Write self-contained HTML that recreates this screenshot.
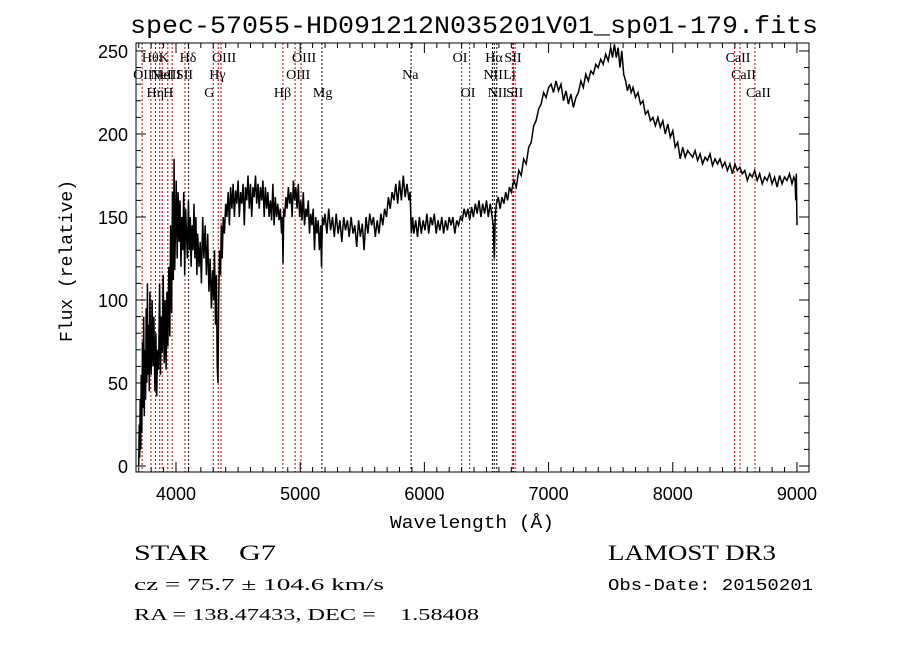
<!DOCTYPE html>
<html><head><meta charset="utf-8"><style>
html,body{margin:0;padding:0;background:#fff;}
svg{display:block;}
text{fill:#000;white-space:pre;}
</style></head><body>
<svg id="chart" width="900" height="649" viewBox="0 0 900 649" xmlns="http://www.w3.org/2000/svg" xml:space="preserve">
<rect x="0" y="0" width="900" height="649" fill="#fff"/>
<text x="130" y="33" font-family="Liberation Mono, monospace" font-size="25" textLength="688" lengthAdjust="spacingAndGlyphs">spec-57055-HD091212N035201V01_sp01-179.fits</text>
<g id="lines"></g>
<g id="linelabels"></g>
<path id="spec" fill="none" stroke="#000" stroke-width="1.5"/>
<rect x="136" y="43" width="673" height="429" fill="none" stroke="#000" stroke-width="1"/>
<g id="axes"></g>
<text x="390" y="528" font-family="Liberation Mono, monospace" font-size="18" textLength="164" lengthAdjust="spacingAndGlyphs">Wavelength (Å)</text>
<text transform="translate(72,342) rotate(-90)" font-family="Liberation Mono, monospace" font-size="18" textLength="162" lengthAdjust="spacingAndGlyphs">Flux (relative)</text>
<text x="134" y="560" font-family="Liberation Serif, serif" font-size="22" textLength="142" lengthAdjust="spacingAndGlyphs">STAR    G7</text>
<text x="134" y="590" font-family="Liberation Serif, serif" font-size="17" textLength="250" lengthAdjust="spacingAndGlyphs">cz = 75.7 ± 104.6 km/s</text>
<text x="134" y="620" font-family="Liberation Serif, serif" font-size="17" textLength="345" lengthAdjust="spacingAndGlyphs">RA = 138.47433, DEC =    1.58408</text>
<text x="608" y="560" font-family="Liberation Serif, serif" font-size="22" textLength="168" lengthAdjust="spacingAndGlyphs">LAMOST DR3</text>
<text x="608" y="590" font-family="Liberation Mono, monospace" font-size="17" textLength="205" lengthAdjust="spacingAndGlyphs">Obs-Date: 20150201</text>
</svg>
<script>
// [wavelength, flux] samples
const blueSegment=[[3700,0],[3704,25],[3708,5],[3712,40],[3716,10],[3720,55],[3725,20],[3730,75],[3735,35],[3740,90],[3745,30],[3750,70],[3755,40],[3760,95],[3765,50],[3770,110],[3775,55],[3780,85],[3785,45],[3790,105],[3795,70],[3800,55],[3808,100],[3815,60],[3822,90],[3830,45],[3838,80],[3845,42],[3852,70],[3860,58],[3868,110],[3875,55],[3882,90],[3890,68],[3897,115],[3905,62],[3912,100],[3920,58],[3927,105],[3935,72],[3942,120],[3950,78],[3957,145],[3965,92],[3972,165],[3978,112],[3985,185],[3990,118],[3995,140],[4002,172],[4010,125],[4017,165],[4025,135],[4032,160],[4040,120],[4047,150],[4055,130],[4062,165],[4070,115],[4077,155],[4085,140],[4092,125],[4100,160],[4108,130],[4115,150],[4122,120],[4130,145],[4137,130],[4145,158],[4152,125],[4160,150],[4168,115],[4175,140],[4185,120],[4195,135],[4205,110],[4215,150],[4225,125],[4235,145],[4245,115],[4255,140],[4265,105],[4275,125],[4285,95],[4295,118],[4303,100],[4310,130],[4318,85],[4325,115],[4332,60],[4338,50],[4344,100],[4350,130],[4358,115],[4365,145],[4372,125],[4380,150],[4390,140]];
const greenSegment=[[4400,158],[4410,150],[4420,165],[4430,145],[4440,168],[4450,155],[4460,170],[4470,150],[4480,166],[4490,158],[4500,172],[4510,150],[4520,165],[4530,158],[4540,170],[4550,145],[4560,168],[4570,160],[4580,175],[4590,155],[4600,170],[4610,150],[4620,168],[4630,162],[4640,175],[4650,158],[4660,170],[4670,155],[4680,168],[4690,160],[4700,172],[4710,150],[4720,168],[4730,155],[4740,165],[4750,150],[4760,160],[4770,148],[4780,170],[4790,145],[4800,162],[4810,150],[4820,158],[4830,148],[4840,155],[4850,140],[4856,150],[4862,122],[4868,155],[4875,150],[4885,162],[4895,155],[4905,168],[4915,158],[4925,165],[4935,150],[4945,172],[4955,160],[4965,168],[4975,155],[4985,170],[4995,150],[5005,160],[5015,148],[5025,165],[5035,145],[5045,155],[5055,150],[5065,160],[5075,140],[5085,152],[5095,145],[5105,155],[5115,130],[5125,150],[5135,140],[5145,148],[5155,130],[5165,145],[5172,120],[5180,150],[5190,145],[5200,152],[5215,140],[5230,155],[5245,142],[5260,150],[5275,138],[5290,152],[5305,140],[5320,148],[5335,135],[5350,150],[5365,142],[5380,148],[5395,138],[5410,150],[5425,140],[5440,145],[5455,132],[5470,148],[5485,138],[5500,146],[5515,130],[5530,150],[5545,140],[5560,152],[5575,145],[5590,150],[5605,138],[5620,148],[5635,140],[5650,152],[5665,145],[5680,155],[5695,150],[5710,162],[5725,155],[5740,165],[5755,160],[5770,170],[5785,158],[5800,172],[5815,160],[5830,175],[5845,162],[5860,170],[5875,160],[5885,165],[5895,140],[5905,150],[5915,140],[5930,148],[5945,138],[5960,150],[5975,140],[5990,148],[6005,142],[6020,152],[6035,140],[6050,150],[6065,145],[6080,152],[6095,140],[6110,148],[6125,142],[6140,150],[6155,140],[6170,148],[6185,142],[6200,150],[6215,145],[6230,150],[6245,140],[6260,148],[6275,145],[6290,150],[6305,148],[6320,155],[6335,150],[6350,155],[6365,148],[6380,156],[6395,150],[6410,158],[6425,152],[6440,160],[6455,150],[6470,158],[6485,152],[6500,160],[6515,150],[6530,158],[6545,150],[6555,145],[6563,125],[6570,150],[6580,158],[6595,162],[6610,155],[6625,162],[6640,158],[6655,165],[6670,160],[6685,168],[6700,165]];
const redSegment=[[6720,172],[6740,168],[6760,178],[6780,175],[6800,185],[6820,182],[6840,192],[6860,195],[6880,205],[6900,208],[6920,215],[6940,218],[6960,225],[6980,222],[7000,228],[7020,230],[7040,225],[7060,232],[7080,226],[7100,230],[7120,220],[7140,226],[7160,218],[7180,224],[7200,216],[7220,222],[7240,225],[7260,232],[7280,228],[7300,236],[7320,232],[7340,238],[7360,236],[7380,242],[7400,240],[7420,245],[7440,242],[7460,248],[7480,244],[7500,252],[7515,246],[7530,254],[7545,246],[7560,252],[7575,240],[7590,250],[7605,236],[7620,232],[7635,226],[7650,230],[7665,225],[7680,228],[7700,222],[7720,225],[7740,218],[7760,220],[7780,212],[7800,214],[7820,208],[7840,210],[7860,205],[7880,210],[7900,204],[7920,208],[7940,200],[7960,206],[7980,198],[8000,202],[8020,192],[8040,195],[8060,185],[8080,192],[8100,186],[8120,190],[8140,188],[8160,186],[8180,190],[8200,184],[8220,188],[8240,182],[8260,186],[8280,184],[8300,188],[8320,181],[8340,185],[8360,182],[8380,185],[8400,180],[8420,183],[8440,178],[8460,182],[8480,176],[8500,182],[8520,178],[8540,180],[8560,176],[8580,178],[8600,172],[8620,176],[8640,174],[8660,178],[8680,172],[8700,176],[8720,170],[8740,174],[8760,172],[8780,176],[8800,170],[8820,174],[8840,168],[8860,175],[8880,170],[8900,174],[8920,172],[8940,176],[8960,170],[8975,174],[8985,172],[8990,160],[8995,176],[9000,145]];
const lineWl=[3727,3798,3835,3869,3889,3934,3969,4072,4102,4300,4340,4363,4861,4959,5007,5175,5893,6300,6364,6548,6563,6583,6708,6717,6731,8498,8542,8662];
const lineRed=[1,1,1,1,1,1,1,1,0,1,1,1,1,1,1,0,0,1,1,0,0,0,1,1,1,1,1,1];
const labelText=["OII","Hθ","Hη","NeIII","HeI","K","H","SII","Hδ","G","Hγ","OIII","Hβ","OIII","OIII","Mg","Na","OI","OI","NII","Hα","NII","Li","SII","SII","CaII","CaII","CaII"];
const labelRow=[1,0,2,1,1,0,2,1,0,2,1,0,2,1,0,2,1,0,2,1,0,2,1,0,2,0,1,2];
const xTicks=[4000,5000,6000,7000,8000,9000];
const yTicks=[0,50,100,150,200,250];
const X0=3678,X1=9097,Y0=-3.6,Y1=254.8,PL=136,PR=809,PT=43,PB=472;
const sx=w=>PL+(w-X0)/(X1-X0)*(PR-PL);
const sy=f=>PB-(f-Y0)/(Y1-Y0)*(PB-PT);
const NS="http://www.w3.org/2000/svg";
function mk(t,a,p){const e=document.createElementNS(NS,t);for(const k in a)e.setAttribute(k,a[k]);p.appendChild(e);return e;}
const spectrum=blueSegment.concat(greenSegment,redSegment);
let d="";spectrum.forEach((p,i)=>{d+=(i?"L":"M")+sx(p[0]).toFixed(1)+","+sy(p[1]).toFixed(1);});
document.getElementById("spec").setAttribute("d",d);
const lg=document.getElementById("lines"),lb=document.getElementById("linelabels");
const rowY=[62,79,97];
lineWl.forEach((w,i)=>{
 const l=mk("line",{x1:sx(w),x2:sx(w),y1:PT,y2:PB,stroke:lineRed[i]?"#c00000":"#000","stroke-width":1,"stroke-dasharray":"2,2"},lg);
 
 
 const t=mk("text",{x:sx(w)-9,y:rowY[labelRow[i]],"font-family":"Liberation Serif, serif","font-size":14},lb);
 t.textContent=labelText[i];
 
 
});
const ax=document.getElementById("axes");
for(let w=3700;w<=9000;w+=100){const x=sx(w),maj=w%1000===0,len=maj?10:5;
 mk("line",{x1:x,x2:x,y1:PB,y2:PB-len,stroke:"#000"},ax);mk("line",{x1:x,x2:x,y1:PT,y2:PT+len,stroke:"#000"},ax);}
xTicks.forEach(w=>{const t=mk("text",{x:sx(w),y:500,"text-anchor":"middle","font-family":"Liberation Sans, sans-serif","font-size":18},ax);t.textContent=w;
 
 });
for(let f=0;f<=250;f+=10){const y=sy(f),maj=f%50===0,len=maj?10:5;
 mk("line",{x1:PL,x2:PL+len,y1:y,y2:y,stroke:"#000"},ax);mk("line",{x1:PR,x2:PR-len,y1:y,y2:y,stroke:"#000"},ax);}
yTicks.forEach(f=>{const t=mk("text",{x:128,y:sy(f)+7,"text-anchor":"end","font-family":"Liberation Sans, sans-serif","font-size":18},ax);t.textContent=f;
 
 });
</script>
</body></html>
